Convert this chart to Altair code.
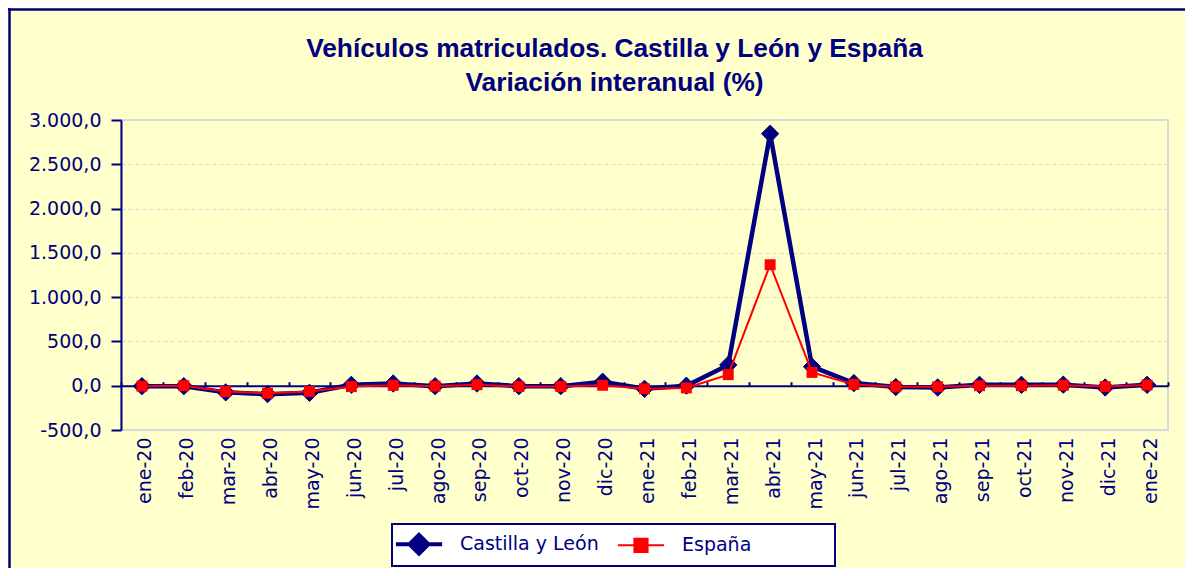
import json
import altair as alt
import pandas as pd

# ---------------- data ----------------
months = ["ene-20", "feb-20", "mar-20", "abr-20", "may-20", "jun-20", "jul-20",
          "ago-20", "sep-20", "oct-20", "nov-20", "dic-20", "ene-21", "feb-21",
          "mar-21", "abr-21", "may-21", "jun-21", "jul-21", "ago-21", "sep-21",
          "oct-21", "nov-21", "dic-21", "ene-22"]
cyl = [-5, -5, -75, -95, -80, 10, 25, -5, 25, -5, -5, 45, -35, 0, 235, 2845,
       215, 30, -15, -20, 10, 10, 12, -20, 10]
esp = [-5, 0, -65, -85, -65, -10, 5, -5, 12, -10, -10, 5, -35, -25, 125, 1366,
       150, 15, -12, -12, 0, 0, 5, -10, 8]
series = ["Castilla y León", "España"]
y_ticks = [-500, 0, 500, 1000, 1500, 2000, 2500, 3000]
title_lines = ["Vehículos matriculados. Castilla y León y España",
               "Variación interanual (%)"]

NAVY = "#000080"
RED = "#FF0000"
BG = "#FFFFCC"

rows = []
for i, m in enumerate(months):
    rows.append({"idx": i, "mes": m, "serie": series[0], "valor": cyl[i]})
    rows.append({"idx": i, "mes": m, "serie": series[1], "valor": esp[i]})
df = pd.DataFrame(rows)

W, H = 1047, 310
PAD_L, PAD_T = 113, 112
TOTAL_W, TOTAL_H = 1177, 560
ZERO_PX = H * y_ticks[-1] / (y_ticks[-1] - y_ticks[0])

xs = alt.Scale(domain=[-0.5, len(months) - 0.5], nice=False, zero=False)
ys = alt.Scale(domain=[y_ticks[0], y_ticks[-1]], nice=False, zero=False)

y_label_expr = ("replace(replace(replace(replace(format(datum.value, ',.1f'), ',', '#'),"
                " '.', ','), '#', '.'), '\u2212', '-')")
y_axis = alt.Axis(values=y_ticks, labelExpr=y_label_expr, title=None,
                  domainColor=NAVY, domainWidth=2, tickColor=NAVY, tickSize=10,
                  tickWidth=2, labelColor=NAVY, labelFont="DejaVu Sans",
                  labelFontSize=19, labelPadding=10, grid=True,
                  gridColor="#d9d9d9", gridDash=[4, 3], gridWidth=1)

x_bottom = alt.Axis(values=list(range(len(months))),
                    labelExpr=json.dumps(months) + "[datum.value]",
                    labelAngle=270, labelAlign="right", labelBaseline="middle",
                    labelOffset=3, labelPadding=7, ticks=False, domain=False,
                    grid=False, title=None, labelColor=NAVY,
                    labelFont="DejaVu Sans", labelFontSize=19, labelFlush=False,
                    labelOverlap=False, orient="bottom")

x_zero = alt.Axis(values=[i - 0.5 for i in range(len(months) + 1)], orient="top",
                  offset=-ZERO_PX, labels=False, grid=False, title=None,
                  domainColor=NAVY, domainWidth=2, tickColor=NAVY, tickSize=4,
                  tickWidth=2)

base = alt.Chart(df)
Y = alt.Y("valor:Q", scale=ys, axis=y_axis)

cyl_line = base.transform_filter(alt.datum.serie == series[0]).mark_line(
    color=NAVY, strokeWidth=4.5).encode(
    x=alt.X("idx:Q", scale=xs, axis=x_bottom), y=Y)
cyl_pts = base.transform_filter(alt.datum.serie == series[0]).mark_point(
    shape="diamond", filled=True, size=300, color=NAVY, opacity=1,
    stroke=NAVY, strokeWidth=1).encode(
    x=alt.X("idx:Q", scale=xs, axis=x_zero), y=Y)
esp_line = base.transform_filter(alt.datum.serie == series[1]).mark_line(
    color=RED, strokeWidth=2).encode(
    x=alt.X("idx:Q", scale=xs, axis=None), y=Y)
esp_pts = base.transform_filter(alt.datum.serie == series[1]).mark_point(
    shape="square", filled=True, size=120, color=RED, opacity=1).encode(
    x=alt.X("idx:Q", scale=xs, axis=None), y=Y)

path_cyl = "M-2.1,0H2.1M0,-0.86L0.86,0L0,0.86L-0.86,0Z"
path_esp = "M0,-0.95M0,0.95M-2.1,0H2.1M-0.6,-0.6H0.6V0.6H-0.6Z"

LEG_X, LEG_Y = 271, 404
LEG_W, LEG_H = 443, 42

leg = alt.Legend(orient="none", legendX=LEG_X, legendY=LEG_Y - 1, direction="horizontal",
                 columns=2, title=None, padding=8, symbolSize=484, symbolOffset=6,
                 labelOffset=28, columnPadding=14, labelFont="DejaVu Sans",
                 labelFontSize=19, labelColor=NAVY, labelLimit=400)

legend_layer = base.transform_filter("false").mark_point(
    filled=True, opacity=1).encode(
    x=alt.X("idx:Q", scale=xs, axis=None), y=Y,
    fill=alt.Fill("serie:N", scale=alt.Scale(domain=series, range=[NAVY, RED]), legend=leg),
    stroke=alt.Stroke("serie:N", scale=alt.Scale(domain=series, range=[NAVY, RED]), legend=leg),
    shape=alt.Shape("serie:N", scale=alt.Scale(domain=series, range=[path_cyl, path_esp]), legend=leg),
    strokeWidth=alt.StrokeWidth("serie:N", scale=alt.Scale(domain=series, range=[4, 2]), legend=leg),
)

one = pd.DataFrame({"k": [0]})
border_top = alt.Chart(one).mark_rule(color=NAVY, strokeWidth=2.5).encode(
    x=alt.value(-PAD_L), x2=alt.value(TOTAL_W - PAD_L), y=alt.value(-PAD_T + 1.5))
border_left = alt.Chart(one).mark_rule(color=NAVY, strokeWidth=2.5).encode(
    x=alt.value(-PAD_L + 1.5), y=alt.value(-PAD_T), y2=alt.value(TOTAL_H - PAD_T))
legend_box = alt.Chart(one).mark_rect(fill="white", stroke=NAVY, strokeWidth=2).encode(
    x=alt.value(LEG_X), x2=alt.value(LEG_X + LEG_W),
    y=alt.value(LEG_Y), y2=alt.value(LEG_Y + LEG_H))

chart = alt.layer(
    border_top, border_left, legend_box, cyl_line, cyl_pts, esp_line, esp_pts,
    legend_layer
).resolve_scale(x="shared", y="shared").resolve_axis(x="independent").properties(
    width=W, height=H,
    autosize=alt.AutoSizeParams(type="none"),
    padding={"left": PAD_L, "top": PAD_T, "right": TOTAL_W - PAD_L - W,
             "bottom": TOTAL_H - PAD_T - H},
    background=BG,
    title=alt.TitleParams(text=title_lines, font="Liberation Sans", fontSize=26.3,
                          fontWeight="bold", color=NAVY, anchor="middle",
                          frame="group", dx=-30, dy=90, offset=0, lineHeight=34),
).configure_view(stroke="#d9d9d9", strokeWidth=2)

chart.save("out.html", embed_options={"renderer": "svg", "actions": False})
